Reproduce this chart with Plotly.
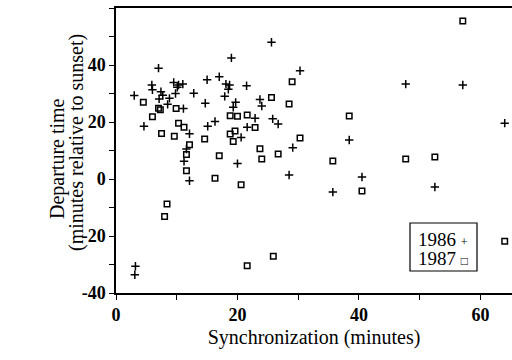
import plotly.graph_objects as go

# 1986 data (synchronization minutes, departure minutes relative to sunset)
x1986 = [3.0, 3.2, 3.1, 4.6, 5.9, 6.0, 7.0, 7.4, 7.7, 7.1, 8.8, 8.5, 9.8, 9.5, 10.3, 11.0, 10.1,
         11.1, 12.8, 12.1, 11.6, 11.2, 12.1, 14.7, 15.0, 15.1, 16.3, 17.0, 18.1, 18.7, 18.5, 17.9,
         19.0, 19.7, 19.3, 20.0, 20.6, 21.5, 21.6, 22.9, 23.7, 24.0, 25.6, 25.8, 26.7, 28.5, 29.1,
         30.3, 35.7, 38.4, 40.5, 47.7, 52.5, 57.1, 64.0]
y1986 = [29.3, -30.6, -33.6, 18.5, 33.0, 31.3, 38.9, 30.6, 29.4, 28.1, 28.3, 26.2, 30.0, 33.9, 33.0, 33.3, 32.2,
         24.7, 30.1, 15.9, 10.5, 6.2, -0.6, 26.6, 34.8, 18.5, 20.2, 35.9, 33.3, 33.0, 31.5, 29.0,
         42.5, 26.9, 25.2, 5.4, 14.6, 32.7, 18.2, 21.3, 27.9, 25.6, 48.0, 21.1, 19.3, 1.4, 11.0,
         38.0, -4.6, 13.7, 0.7, 33.3, -2.8, 33.0, 19.6]

# 1987 data
x1987 = [4.5, 6.0, 7.0, 7.3, 7.5, 8.4, 8.0, 9.9, 9.6, 10.3, 11.2, 12.1, 11.6, 11.6, 14.6, 16.3, 17.0,
         18.8, 20.0, 19.6, 18.8, 19.3, 20.6, 21.6, 22.9, 23.7, 24.0, 21.6, 25.6, 25.9, 26.7, 28.5,
         29.0, 30.3, 35.7, 38.4, 40.5, 47.7, 52.5, 57.1, 64.0]
y1987 = [26.9, 21.8, 24.8, 24.3, 16.0, -8.8, -13.2, 24.7, 15.0, 19.6, 18.2, 12.0, 8.6, 2.9, 14.0, 0.3, 8.2,
         22.2, 22.0, 16.8, 15.8, 13.2, -2.0, 22.5, 18.1, 10.6, 7.0, -30.4, 28.6, -27.1, 8.8, 26.3,
         34.1, 14.4, 6.3, 22.1, -4.2, 7.0, 7.7, 55.4, -21.8]

x_ticks = [0, 20, 40, 60]
y_ticks = [-40, -20, 0, 20, 40]

SERIF = "Liberation Serif"

fig = go.Figure()
fig.add_trace(go.Scatter(
    x=x1986, y=y1986, mode="markers", name="1986",
    marker=dict(symbol="cross-thin", size=6, color="black", line=dict(color="black", width=1.5)),
))
fig.add_trace(go.Scatter(
    x=x1987, y=y1987, mode="markers", name="1987",
    marker=dict(symbol="square-open", size=5.5, color="black", line=dict(color="black", width=1.5)),
))

axis_common = dict(
    showgrid=False, zeroline=False, showline=True, linecolor="black", linewidth=1.5,
    ticks="outside", ticklen=5, tickwidth=1.2, tickcolor="black",
    tickfont=dict(family=SERIF, size=18, color="black", weight="bold"),
)

fig.update_xaxes(
    range=[0, 65.2], tickvals=x_ticks, ticktext=[str(v) for v in x_ticks], mirror=True,
    minor=dict(dtick=10, tick0=0, ticks="outside", ticklen=5, tickwidth=1.2, tickcolor="black"),
    title=dict(text="Synchronization (minutes)", font=dict(family=SERIF, size=20, color="black"), standoff=6),
    **axis_common,
)
fig.update_yaxes(
    range=[-40, 60], tickvals=y_ticks, ticktext=[str(v) for v in y_ticks],
    minor=dict(dtick=10, tick0=0, ticks="outside", ticklen=5, tickwidth=1.2, tickcolor="black"),
    **axis_common,
)

PW = 396.0
PH = 285.0
def px2paper_x(px):
    return (px - 116) / PW
def px2paper_y(py):
    return (293 - py) / PH

annotations = [
    dict(text="Departure time", xref="paper", yref="paper", x=px2paper_x(57), y=px2paper_y(159),
         textangle=-90, showarrow=False, xanchor="center", yanchor="middle",
         font=dict(family=SERIF, size=20, color="black")),
    dict(text="(minutes relative to sunset)", xref="paper", yref="paper", x=px2paper_x(76), y=px2paper_y(143),
         textangle=-90, showarrow=False, xanchor="center", yanchor="middle",
         font=dict(family=SERIF, size=20, color="black")),
    dict(text="1986 <span style='font-size:12px'>+</span>", xref="paper", yref="paper",
         x=px2paper_x(443), y=px2paper_y(239), showarrow=False, xanchor="center", yanchor="middle",
         font=dict(family=SERIF, size=19, color="black")),
    dict(text="1987 <span style='font-size:12px'>□</span>", xref="paper", yref="paper",
         x=px2paper_x(443), y=px2paper_y(258), showarrow=False, xanchor="center", yanchor="middle",
         font=dict(family=SERIF, size=19, color="black")),
]

fig.update_layout(
    width=512, height=360,
    margin=dict(l=116, r=0, t=8, b=67, pad=0),
    paper_bgcolor="white", plot_bgcolor="white",
    showlegend=False,
    annotations=annotations,
    shapes=[dict(type="rect", xref="paper", yref="paper",
                 x0=px2paper_x(410), x1=px2paper_x(477), y0=px2paper_y(271), y1=px2paper_y(223),
                 line=dict(color="black", width=1.2), fillcolor="rgba(0,0,0,0)")],
)

fig.write_html(
    "out.html",
    config={"displayModeBar": False},
    post_script="document.body.style.margin='0';document.body.style.overflow='hidden';",
)
